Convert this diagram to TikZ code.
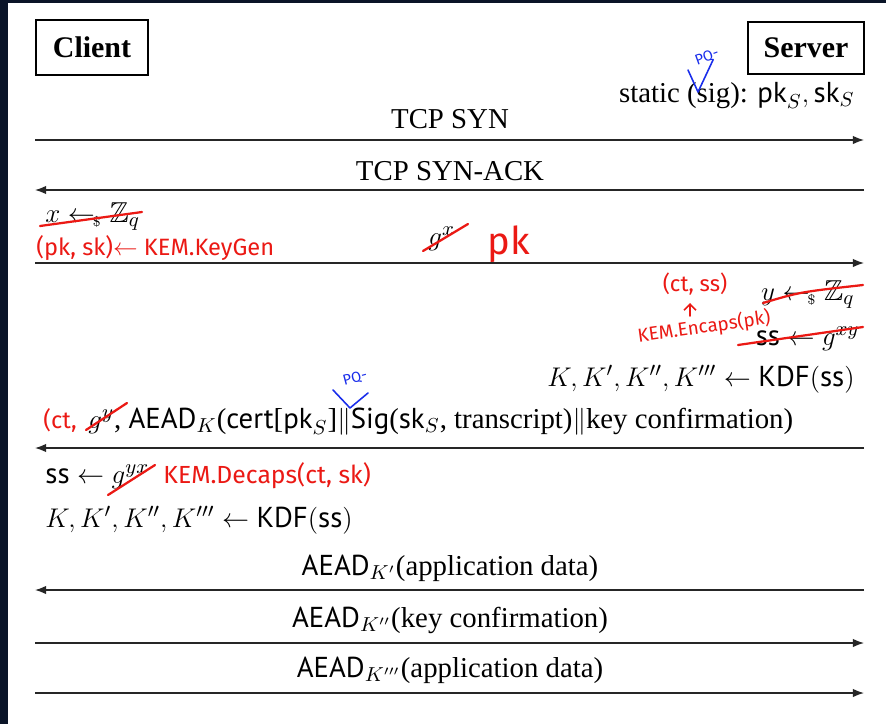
\documentclass[tikz,border=0pt]{standalone}
\usepackage{amssymb}
\usepackage{fontspec}
\setmainfont{Liberation Serif}
\setsansfont{PT Sans}
\newfontfamily\hand{Fira Sans}
\usetikzlibrary{arrows.meta}
\definecolor{navy}{RGB}{10,20,40}
\definecolor{hred}{RGB}{235,25,20}
\definecolor{hblue}{RGB}{25,45,235}
\newcommand{\msf}[1]{\textsf{#1}}
\newcommand{\samp}{\mathrel{\leftarrow_{\hspace{-1pt}\scriptscriptstyle\$}}}
\begin{document}
\begin{tikzpicture}[x=0.4444pt,y=-0.4444pt,
  font=\fontsize{12.8}{15}\selectfont,
  actor/.style={draw, line width=0.55pt, font=\fontsize{13.3}{16}\selectfont\bfseries, inner sep=0pt},
  msg/.style={draw=black!85, line width=0.58pt, -{Latex[length=4.9pt,width=3.7pt]}},
  lbl/.style={anchor=base, inner sep=0pt},
  hw/.style={text=hred, font=\hand\fontsize{10.5}{12}\selectfont, inner sep=0pt},
  strike/.style={draw=hred, line width=1pt, line cap=round},
  pq/.style={draw=hblue, line width=0.7pt, line cap=round, line join=round},
  pqtext/.style={text=hblue, font=\hand\fontsize{6.5}{7}\selectfont, inner sep=0pt}]

\useasboundingbox (0,0) rectangle (886,724);
\fill[navy] (0,0) rectangle (886,724);
\fill[white] (8,3) rectangle (886,724);

% actors
\node[actor, minimum width=49.8pt, minimum height=24.4pt] (client) at (92,47.5) {Client};
\node[actor, minimum width=51.6pt, minimum height=23.1pt] (server) at (806,48) {Server};

\node[lbl, anchor=base east] (static) at (855,102) {static (sig): $\msf{pk}_S, \msf{sk}_S$};
\draw[pq] (688,70) -- (698,92) -- (713,60);
\node[pqtext, rotate=20] (pq1) at (707,57) {PQ-};

% TCP SYN
\coordinate (c1) at (35,140); \coordinate (s1) at (864,140);
\draw[msg] (c1) -- (s1);
\node[lbl] (m1) at (450,128) {TCP SYN};

% TCP SYN-ACK
\coordinate (c2) at (35,190); \coordinate (s2) at (864,190);
\draw[msg] (s2) -- (c2);
\node[lbl] (m2) at (450,180) {TCP SYN-ACK};

% client keygen
\node[lbl, anchor=base west] (xs) at (45,222) {$x \samp \mathbb{Z}_q$};
\draw[strike] (40,226) -- (142,212);
\node[hw, anchor=base west] (kg) at (36,255) {(pk, sk)$\leftarrow$ KEM.KeyGen};
\node[lbl, anchor=base west] (gx) at (428,245) {$g^x$};
\draw[strike] (423,251) -- (468,224);
\node[hw, font=\hand\fontsize{17}{20}\selectfont, anchor=base west] (pk) at (487,254) {pk};
\coordinate (c3) at (35,263); \coordinate (s3) at (864,263);
\draw[msg] (c3) -- (s3);

% server encaps
\node[hw, font=\hand\fontsize{9.8}{12}\selectfont] (ctss) at (695,284) {(ct, ss)};
\node[lbl, anchor=base east] (yz) at (855,300) {$y \samp \mathbb{Z}_q$};
\draw[strike] (763,303) .. controls (800,292) .. (863,285);
\node[hw, font=\hand\fontsize{8.4}{10}\selectfont, rotate=8] (enc) at (704,327) {KEM.Encaps(pk)};
\draw[hred, line width=0.7pt, line cap=round, -{Straight Barb[length=2.7pt,width=5.3pt]}] (690,316) -- (690,303);
\node[lbl, anchor=base east] (ssg) at (860,345) {$\msf{ss} \leftarrow g^{xy}$};
\draw[strike] (738,345) -- (863,327);
\node[lbl, anchor=base east] (kdfS) at (855,386) {$K, K', K'', K''' \leftarrow \msf{KDF}(\msf{ss})$};

% server response
\node[hw, font=\hand\fontsize{10.5}{12}\selectfont, anchor=base west] (ct1) at (43,428) {(ct,};
\node[lbl, anchor=base west] (m5) at (88,428) {$g^y$, $\msf{AEAD}_K$(\msf{cert}[$\msf{pk}_S$]$\|$\msf{Sig}($\msf{sk}_S$, transcript)$\|$key confirmation)};
\draw[strike] (86,430) -- (127,403);
\draw[pq] (333,390) -- (350,408) -- (368,393);
\node[pqtext, rotate=15] (pq2) at (355,378) {PQ-};
\coordinate (c4) at (35,448); \coordinate (s4) at (864,448);
\draw[msg] (s4) -- (c4);

% client decaps
\node[lbl, anchor=base west] (ssc) at (45,483) {$\msf{ss} \leftarrow g^{yx}$};
\draw[strike] (108,495) -- (155,465);
\node[hw, font=\hand\fontsize{11}{13}\selectfont, anchor=base west] (dec) at (163,483) {KEM.Decaps(ct, sk)};
\node[lbl, anchor=base west] (kdfC) at (45,527) {$K, K', K'', K''' \leftarrow \msf{KDF}(\msf{ss})$};

% application data
\node[lbl] (m6) at (450,575) {$\msf{AEAD}_{K'}$(application data)};
\coordinate (c5) at (35,590); \coordinate (s5) at (864,590);
\draw[msg] (s5) -- (c5);

\node[lbl] (m7) at (450,627) {$\msf{AEAD}_{K''}$(key confirmation)};
\coordinate (c6) at (35,643); \coordinate (s6) at (864,643);
\draw[msg] (c6) -- (s6);

\node[lbl] (m8) at (450,677) {$\msf{AEAD}_{K'''}$(application data)};
\coordinate (c7) at (35,693); \coordinate (s7) at (864,693);
\draw[msg] (c7) -- (s7);
\end{tikzpicture}
\end{document}
